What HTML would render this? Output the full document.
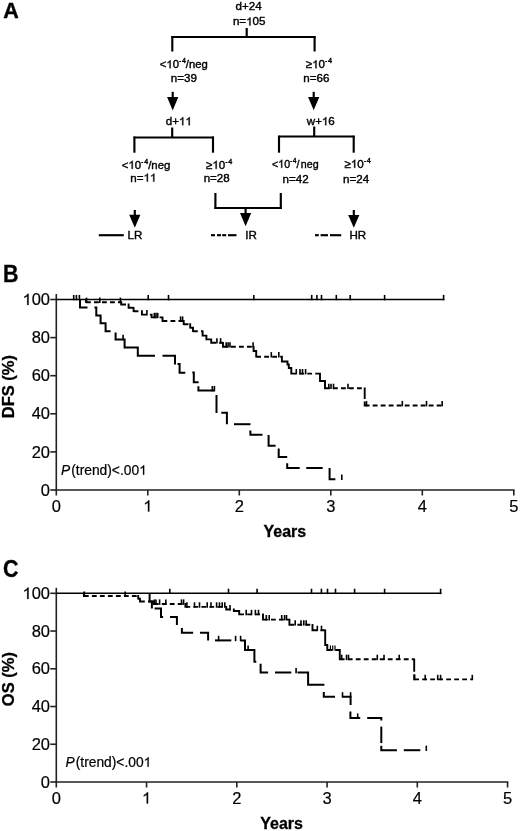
<!DOCTYPE html>
<html><head><meta charset="utf-8"><style>
html,body{margin:0;padding:0;background:#fff;}
svg{display:block;font-family:"Liberation Sans", sans-serif;will-change:transform;}
</style></head><body>
<svg width="520" height="831" viewBox="0 0 520 831" fill="#000">
<text x="3.2" y="18.3" font-size="21.5" text-anchor="start" font-weight="bold" font-style="normal" stroke="#000" stroke-width="0.4" >A</text>
<text x="248.6" y="10.4" font-size="11.6" text-anchor="middle" font-weight="normal" font-style="normal" stroke="#000" stroke-width="0.4" >d+24</text>
<text x="249.2" y="25.4" font-size="11.6" text-anchor="middle" font-weight="normal" font-style="normal" stroke="#000" stroke-width="0.4" >n= 05</text>
<line x1="246.7" y1="28" x2="246.7" y2="37.5" stroke="#000" stroke-width="2.15"/>
<line x1="171.5" y1="37" x2="315.5" y2="37" stroke="#000" stroke-width="2.15"/>
<line x1="172.3" y1="36" x2="172.3" y2="51.5" stroke="#000" stroke-width="2.15"/>
<line x1="314.6" y1="36" x2="314.6" y2="51.5" stroke="#000" stroke-width="2.15"/>
<text transform="translate(159.8,68.3) scale(0.975,1)" font-size="11.6" text-anchor="start" stroke="#000" stroke-width="0.4">&lt; 0<tspan font-size="5.8" dy="-5.2" dx="0.2">-</tspan><tspan font-size="7.3" dx="0.9">4</tspan><tspan dy="5.2">/neg</tspan></text>
<text x="183.8" y="82.3" font-size="11.6" text-anchor="middle" font-weight="normal" font-style="normal" stroke="#000" stroke-width="0.4" >n=39</text>
<text transform="translate(305.8,68.3) scale(1.0,1)" font-size="11.6" text-anchor="start" stroke="#000" stroke-width="0.4">≥ 0<tspan font-size="5.8" dy="-5.2" dx="0.2">-</tspan><tspan font-size="7.3" dx="0.9">4</tspan><tspan dy="5.2"></tspan></text>
<text x="316.3" y="82.3" font-size="11.6" text-anchor="middle" font-weight="normal" font-style="normal" stroke="#000" stroke-width="0.4" >n=66</text>
<line x1="172.7" y1="91.8" x2="172.7" y2="97.5" stroke="#000" stroke-width="2.15"/>
<path d="M167.1,97 L178.29999999999998,97 L172.7,110.4 Z" fill="#000"/>
<line x1="313.7" y1="91.8" x2="313.7" y2="97.5" stroke="#000" stroke-width="2.15"/>
<path d="M308.09999999999997,97 L319.3,97 L313.7,110.2 Z" fill="#000"/>
<text x="178.8" y="125.2" font-size="11.6" text-anchor="middle" font-weight="normal" font-style="normal" stroke="#000" stroke-width="0.4" >d+  </text>
<text x="320.8" y="125.2" font-size="11.6" text-anchor="middle" font-weight="normal" font-style="normal" stroke="#000" stroke-width="0.4" >w+ 6</text>
<line x1="172.2" y1="127.5" x2="172.2" y2="137.5" stroke="#000" stroke-width="2.15"/>
<line x1="133.6" y1="137.5" x2="213.8" y2="137.5" stroke="#000" stroke-width="2.15"/>
<line x1="134.4" y1="136.5" x2="134.4" y2="152.7" stroke="#000" stroke-width="2.15"/>
<line x1="213" y1="136.5" x2="213" y2="152.7" stroke="#000" stroke-width="2.15"/>
<line x1="314.2" y1="126.5" x2="314.2" y2="136.5" stroke="#000" stroke-width="2.15"/>
<line x1="278.2" y1="136.5" x2="354.5" y2="136.5" stroke="#000" stroke-width="2.15"/>
<line x1="279" y1="135.7" x2="279" y2="152.7" stroke="#000" stroke-width="2.15"/>
<line x1="353.7" y1="135.7" x2="353.7" y2="152.7" stroke="#000" stroke-width="2.15"/>
<text transform="translate(121.8,168.8) scale(0.985,1)" font-size="11.6" text-anchor="start" stroke="#000" stroke-width="0.4">&lt; 0<tspan font-size="5.8" dy="-5.2" dx="0.2">-</tspan><tspan font-size="7.3" dx="0.9">4</tspan><tspan dy="5.2">/neg</tspan></text>
<text x="143.4" y="181.6" font-size="11.6" text-anchor="middle" font-weight="normal" font-style="normal" stroke="#000" stroke-width="0.4" >n=  </text>
<text transform="translate(206.0,168.8) scale(1.0,1)" font-size="11.6" text-anchor="start" stroke="#000" stroke-width="0.4">≥ 0<tspan font-size="5.8" dy="-5.2" dx="0.2">-</tspan><tspan font-size="7.3" dx="0.9">4</tspan><tspan dy="5.2"></tspan></text>
<text x="216.7" y="182.4" font-size="11.6" text-anchor="middle" font-weight="normal" font-style="normal" stroke="#000" stroke-width="0.4" >n=28</text>
<text transform="translate(272.0,167.8) scale(0.92,1)" font-size="11.6" text-anchor="start" stroke="#000" stroke-width="0.4">&lt; 0<tspan font-size="5.8" dy="-5.2" dx="0.2">-</tspan><tspan font-size="7.3" dx="0.9">4</tspan><tspan dy="5.2">/<tspan dx="1.4">neg</tspan></tspan></text>
<text x="295.6" y="182.6" font-size="11.6" text-anchor="middle" font-weight="normal" font-style="normal" stroke="#000" stroke-width="0.4" >n=42</text>
<text transform="translate(344.5,167.8) scale(1.0,1)" font-size="11.6" text-anchor="start" stroke="#000" stroke-width="0.4">≥ 0<tspan font-size="5.8" dy="-5.2" dx="0.2">-</tspan><tspan font-size="7.3" dx="0.9">4</tspan><tspan dy="5.2"></tspan></text>
<text x="356.1" y="182.6" font-size="11.6" text-anchor="middle" font-weight="normal" font-style="normal" stroke="#000" stroke-width="0.4" >n=24</text>
<line x1="215.4" y1="193" x2="215.4" y2="208.9" stroke="#000" stroke-width="2.15"/>
<line x1="280.8" y1="193" x2="280.8" y2="208.9" stroke="#000" stroke-width="2.15"/>
<line x1="214.4" y1="208.0" x2="281.8" y2="208.0" stroke="#000" stroke-width="2.15"/>
<line x1="245.6" y1="208.0" x2="245.6" y2="213.5" stroke="#000" stroke-width="2.15"/>
<path d="M240.0,213 L251.2,213 L245.6,226.2 Z" fill="#000"/>
<line x1="134.8" y1="210" x2="134.8" y2="215.3" stroke="#000" stroke-width="2.15"/>
<path d="M129.20000000000002,214.8 L140.4,214.8 L134.8,227.8 Z" fill="#000"/>
<line x1="353.8" y1="210" x2="353.8" y2="215.5" stroke="#000" stroke-width="2.15"/>
<path d="M348.2,215 L359.40000000000003,215 L353.8,227.8 Z" fill="#000"/>
<line x1="98.8" y1="235.2" x2="123.8" y2="235.2" stroke="#000" stroke-width="2.15"/>
<text x="134.9" y="238.8" font-size="11.6" text-anchor="middle" font-weight="normal" font-style="normal" stroke="#000" stroke-width="0.4" >LR</text>
<line x1="211" y1="235.2" x2="215" y2="235.2" stroke="#000" stroke-width="2.15"/>
<line x1="217" y1="235.2" x2="221" y2="235.2" stroke="#000" stroke-width="2.15"/>
<line x1="222.2" y1="235.2" x2="226.2" y2="235.2" stroke="#000" stroke-width="2.15"/>
<line x1="228" y1="235.2" x2="236.5" y2="235.2" stroke="#000" stroke-width="2.15"/>
<text x="251.0" y="238.7" font-size="11.6" text-anchor="middle" font-weight="normal" font-style="normal" stroke="#000" stroke-width="0.4" >IR</text>
<line x1="315" y1="235.2" x2="318.8" y2="235.2" stroke="#000" stroke-width="2.15"/>
<line x1="320.6" y1="235.2" x2="328" y2="235.2" stroke="#000" stroke-width="2.15"/>
<line x1="330" y1="235.2" x2="341.2" y2="235.2" stroke="#000" stroke-width="2.15"/>
<text x="357.8" y="238.7" font-size="11.6" text-anchor="middle" font-weight="normal" font-style="normal" stroke="#000" stroke-width="0.4" >HR</text>
<text transform="translate(3.0,282.0) scale(1.0,1.08)" font-size="21.5" text-anchor="start" font-weight="bold" font-style="normal" stroke="#000" stroke-width="0.3" >B</text>
<line x1="56.3" y1="294.0" x2="56.3" y2="490.75" stroke="#222" stroke-width="1.6"/>
<line x1="55.55" y1="490.0" x2="514.5999999999999" y2="490.0" stroke="#222" stroke-width="1.6"/>
<line x1="50.3" y1="490.0" x2="56.3" y2="490.0" stroke="#222" stroke-width="1.6"/>
<text x="50.0" y="495.6" font-size="16.5" text-anchor="end" font-weight="normal" font-style="normal" stroke="#000" stroke-width="0.2" >0</text>
<line x1="50.3" y1="451.9" x2="56.3" y2="451.9" stroke="#222" stroke-width="1.6"/>
<text x="50.0" y="457.5" font-size="16.5" text-anchor="end" font-weight="normal" font-style="normal" stroke="#000" stroke-width="0.2" >20</text>
<line x1="50.3" y1="413.8" x2="56.3" y2="413.8" stroke="#222" stroke-width="1.6"/>
<text x="50.0" y="419.40000000000003" font-size="16.5" text-anchor="end" font-weight="normal" font-style="normal" stroke="#000" stroke-width="0.2" >40</text>
<line x1="50.3" y1="375.7" x2="56.3" y2="375.7" stroke="#222" stroke-width="1.6"/>
<text x="50.0" y="381.3" font-size="16.5" text-anchor="end" font-weight="normal" font-style="normal" stroke="#000" stroke-width="0.2" >60</text>
<line x1="50.3" y1="337.6" x2="56.3" y2="337.6" stroke="#222" stroke-width="1.6"/>
<text x="50.0" y="343.20000000000005" font-size="16.5" text-anchor="end" font-weight="normal" font-style="normal" stroke="#000" stroke-width="0.2" >80</text>
<line x1="50.3" y1="299.5" x2="56.3" y2="299.5" stroke="#222" stroke-width="1.6"/>
<text x="50.0" y="305.1" font-size="16.5" text-anchor="end" font-weight="normal" font-style="normal" stroke="#000" stroke-width="0.2" > 00</text>
<line x1="56.3" y1="490.0" x2="56.3" y2="495.5" stroke="#222" stroke-width="1.6"/>
<text x="56.3" y="511.6" font-size="16.5" text-anchor="middle" font-weight="normal" font-style="normal" stroke="#000" stroke-width="0.2" >0</text>
<line x1="147.8" y1="490.0" x2="147.8" y2="495.5" stroke="#222" stroke-width="1.6"/>
<text x="147.8" y="511.6" font-size="16.5" text-anchor="middle" font-weight="normal" font-style="normal" stroke="#000" stroke-width="0.2" > </text>
<line x1="239.3" y1="490.0" x2="239.3" y2="495.5" stroke="#222" stroke-width="1.6"/>
<text x="239.3" y="511.6" font-size="16.5" text-anchor="middle" font-weight="normal" font-style="normal" stroke="#000" stroke-width="0.2" >2</text>
<line x1="330.8" y1="490.0" x2="330.8" y2="495.5" stroke="#222" stroke-width="1.6"/>
<text x="330.8" y="511.6" font-size="16.5" text-anchor="middle" font-weight="normal" font-style="normal" stroke="#000" stroke-width="0.2" >3</text>
<line x1="422.3" y1="490.0" x2="422.3" y2="495.5" stroke="#222" stroke-width="1.6"/>
<text x="422.3" y="511.6" font-size="16.5" text-anchor="middle" font-weight="normal" font-style="normal" stroke="#000" stroke-width="0.2" >4</text>
<line x1="513.8" y1="490.0" x2="513.8" y2="495.5" stroke="#222" stroke-width="1.6"/>
<text x="513.8" y="511.6" font-size="16.5" text-anchor="middle" font-weight="normal" font-style="normal" stroke="#000" stroke-width="0.2" >5</text>
<text transform="translate(284.9,537.2) scale(1.0,1.06)" font-size="16.0" text-anchor="middle" font-weight="bold" font-style="normal" stroke="#000" stroke-width="0.3" >Years</text>
<text transform="translate(14.4,386.6) rotate(-90)" font-size="16.5" font-weight="bold" text-anchor="middle" stroke="#000" stroke-width="0.3">DFS (%)</text>
<text x="61.0" y="474.8" font-size="13.8" stroke="#000" stroke-width="0.22"><tspan font-style="italic">P</tspan><tspan dx="1">(trend)&lt;.00 </tspan></text>
<line x1="56.3" y1="299.5" x2="444.3" y2="299.5" stroke="#000" stroke-width="1.6"/>
<line x1="73.7" y1="294.9" x2="73.7" y2="300.3" stroke="#000" stroke-width="1.6"/>
<line x1="76.4" y1="294.9" x2="76.4" y2="300.3" stroke="#000" stroke-width="1.6"/>
<line x1="79.4" y1="294.9" x2="79.4" y2="300.3" stroke="#000" stroke-width="1.6"/>
<line x1="148.2" y1="294.9" x2="148.2" y2="300.3" stroke="#000" stroke-width="1.6"/>
<line x1="168.5" y1="294.9" x2="168.5" y2="300.3" stroke="#000" stroke-width="1.6"/>
<line x1="253.8" y1="294.9" x2="253.8" y2="300.3" stroke="#000" stroke-width="1.6"/>
<line x1="311.7" y1="294.9" x2="311.7" y2="300.3" stroke="#000" stroke-width="1.6"/>
<line x1="316.9" y1="294.9" x2="316.9" y2="300.3" stroke="#000" stroke-width="1.6"/>
<line x1="321.5" y1="294.9" x2="321.5" y2="300.3" stroke="#000" stroke-width="1.6"/>
<line x1="336.3" y1="294.9" x2="336.3" y2="300.3" stroke="#000" stroke-width="1.6"/>
<line x1="350.2" y1="294.9" x2="350.2" y2="300.3" stroke="#000" stroke-width="1.6"/>
<line x1="384.6" y1="294.9" x2="384.6" y2="300.3" stroke="#000" stroke-width="1.6"/>
<line x1="443.6" y1="294.9" x2="443.6" y2="300.3" stroke="#000" stroke-width="1.6"/>
<path d="M86,298.6V303.09999999999997M86.00,302.2H90.80M94.00,302.2H98.80M102.00,302.2H106.80M110.00,302.2H114.80M118.00,302.2H121.20M121.2,301.3V305.4M121.20,304.5H126.00M128.6,303.6V308.7M128.60,307.8H133.40M133.6,306.90000000000003V312.09999999999997M133.60,311.2H138.40M141.60,311.2H141.90M141.9,310.3V315.5M141.90,314.6H146.70M149.90,314.6H151.60M151.6,313.70000000000005V318.29999999999995M151.60,317.4H156.40M159.60,317.4H162.50M162.5,316.5V321.9M162.50,321H167.30M170.50,321H175.30M178.50,321H183.30M183.7,320.1V325.09999999999997M183.70,324.2H188.50M190.2,323.3V328.59999999999997M190.20,327.7H193.00M193,326.8V332.09999999999997M193.00,331.2H197.80M201.00,331.2H202.60M202.6,330.3V336.5M202.60,335.6H206.40M206.4,334.70000000000005V340.29999999999995M206.40,339.4H211.20M211.2,338.5V343.7M211.20,342.8H216.00M219.20,342.8H223.00M223,341.90000000000003V347.7M223.00,346.8H227.80M231.00,346.8H235.80M239.00,346.8H243.80M247.00,346.8H251.80M253.6,345.90000000000003V351.9M253.60,351H256.20M256.2,350.1V357.59999999999997M256.20,356.7H261.00M264.20,356.7H269.00M272.20,356.7H277.00M280.20,356.7H281.90M281.9,355.8V362.4M281.90,361.5H286.70M287.5,360.6V365.4M287.50,364.5H288.80M288.8,363.6V368.9M288.80,368H291.30M291.3,367.1V374.5M291.30,373.6H296.10M299.30,373.6H304.10M307.30,373.6H312.10M315.30,373.6H320.00M320,372.70000000000005V381.9M320.00,381H324.80M325,380.1V389.2M325.00,388.3H329.80M333.00,388.3H337.80M341.00,388.3H345.80M349.00,388.3H353.80M357.00,388.3H361.80M364.7,387.40000000000003V398.96M364.7,401.46V406.4M364.70,405.5H369.50M372.70,405.5H377.50M380.70,405.5H385.50M388.70,405.5H393.50M396.70,405.5H401.50M404.70,405.5H409.50M412.70,405.5H417.50M420.70,405.5H425.50M428.70,405.5H433.50M436.70,405.5H441.50" fill="none" stroke="#000" stroke-width="1.9" stroke-linecap="butt"/>
<line x1="86.6" y1="297.59999999999997" x2="86.6" y2="303.0" stroke="#000" stroke-width="1.6"/>
<line x1="99.8" y1="297.59999999999997" x2="99.8" y2="303.0" stroke="#000" stroke-width="1.6"/>
<line x1="120.4" y1="297.59999999999997" x2="120.4" y2="303.0" stroke="#000" stroke-width="1.6"/>
<line x1="146.9" y1="310.0" x2="146.9" y2="315.40000000000003" stroke="#000" stroke-width="1.6"/>
<line x1="154.3" y1="312.79999999999995" x2="154.3" y2="318.2" stroke="#000" stroke-width="1.6"/>
<line x1="156" y1="312.79999999999995" x2="156" y2="318.2" stroke="#000" stroke-width="1.6"/>
<line x1="157.7" y1="312.79999999999995" x2="157.7" y2="318.2" stroke="#000" stroke-width="1.6"/>
<line x1="180.6" y1="316.4" x2="180.6" y2="321.8" stroke="#000" stroke-width="1.6"/>
<line x1="182.6" y1="316.4" x2="182.6" y2="321.8" stroke="#000" stroke-width="1.6"/>
<line x1="216.9" y1="338.2" x2="216.9" y2="343.6" stroke="#000" stroke-width="1.6"/>
<line x1="220.6" y1="338.2" x2="220.6" y2="343.6" stroke="#000" stroke-width="1.6"/>
<line x1="226.2" y1="342.2" x2="226.2" y2="347.6" stroke="#000" stroke-width="1.6"/>
<line x1="228.1" y1="342.2" x2="228.1" y2="347.6" stroke="#000" stroke-width="1.6"/>
<line x1="230" y1="342.2" x2="230" y2="347.6" stroke="#000" stroke-width="1.6"/>
<line x1="253.1" y1="342.2" x2="253.1" y2="347.6" stroke="#000" stroke-width="1.6"/>
<line x1="271.3" y1="352.09999999999997" x2="271.3" y2="357.5" stroke="#000" stroke-width="1.6"/>
<line x1="278.8" y1="352.09999999999997" x2="278.8" y2="357.5" stroke="#000" stroke-width="1.6"/>
<line x1="296.3" y1="369.0" x2="296.3" y2="374.40000000000003" stroke="#000" stroke-width="1.6"/>
<line x1="300" y1="369.0" x2="300" y2="374.40000000000003" stroke="#000" stroke-width="1.6"/>
<line x1="302.5" y1="369.0" x2="302.5" y2="374.40000000000003" stroke="#000" stroke-width="1.6"/>
<line x1="305.6" y1="369.0" x2="305.6" y2="374.40000000000003" stroke="#000" stroke-width="1.6"/>
<line x1="328.8" y1="383.7" x2="328.8" y2="389.1" stroke="#000" stroke-width="1.6"/>
<line x1="331" y1="383.7" x2="331" y2="389.1" stroke="#000" stroke-width="1.6"/>
<line x1="333.5" y1="383.7" x2="333.5" y2="389.1" stroke="#000" stroke-width="1.6"/>
<line x1="348" y1="383.7" x2="348" y2="389.1" stroke="#000" stroke-width="1.6"/>
<line x1="366.5" y1="400.9" x2="366.5" y2="406.3" stroke="#000" stroke-width="1.6"/>
<line x1="402.3" y1="400.9" x2="402.3" y2="406.3" stroke="#000" stroke-width="1.6"/>
<line x1="426.5" y1="400.9" x2="426.5" y2="406.3" stroke="#000" stroke-width="1.6"/>
<line x1="442.2" y1="400.9" x2="442.2" y2="406.3" stroke="#000" stroke-width="1.6"/>
<path d="M80.0,299.5 L80.0,307.5 L87.5,307.5" fill="none" stroke="#000" stroke-width="2.0" stroke-linejoin="miter"/>
<path d="M94.4,307.5 L96.3,307.5 L96.3,315.5 L100.6,315.5 L100.6,323.2 L105.6,323.2 L105.6,331.2 L110.6,331.2" fill="none" stroke="#000" stroke-width="2.0" stroke-linejoin="miter"/>
<path d="M115.6,332.5 L115.6,339.4 L124.6,339.4 L124.6,347.6 L137.8,347.6 L137.8,355.7 L155,355.7" fill="none" stroke="#000" stroke-width="2.0" stroke-linejoin="miter"/>
<path d="M162.5,355.7 L175,355.7 L175,364.6" fill="none" stroke="#000" stroke-width="2.0" stroke-linejoin="miter"/>
<path d="M177.5,364.0 L179.6,364.0 L179.6,372.7 L185.3,372.7" fill="none" stroke="#000" stroke-width="2.0" stroke-linejoin="miter"/>
<path d="M192.3,372.6 L193.8,372.6 L193.8,382.2 L198.6,382.2" fill="none" stroke="#000" stroke-width="2.0" stroke-linejoin="miter"/>
<path d="M198.4,386.2 L198.4,390.6 L214.4,390.6" fill="none" stroke="#000" stroke-width="2.0" stroke-linejoin="miter"/>
<path d="M216.5,395 L216.5,413" fill="none" stroke="#000" stroke-width="2.0" stroke-linejoin="miter"/>
<path d="M221.3,412.8 L226.9,412.8 L226.9,424.3" fill="none" stroke="#000" stroke-width="2.0" stroke-linejoin="miter"/>
<path d="M234,424.2 L250.5,424.2" fill="none" stroke="#000" stroke-width="2.0" stroke-linejoin="miter"/>
<path d="M250.4,430.6 L250.4,434.8 L262.5,434.8" fill="none" stroke="#000" stroke-width="2.0" stroke-linejoin="miter"/>
<path d="M268.6,435 L268.6,445.8 L275.6,445.8" fill="none" stroke="#000" stroke-width="2.0" stroke-linejoin="miter"/>
<path d="M278.7,448.6 L278.7,456.9 L287.2,456.9" fill="none" stroke="#000" stroke-width="2.0" stroke-linejoin="miter"/>
<path d="M287.2,463.3 L287.2,468.0 L299.7,468.0" fill="none" stroke="#000" stroke-width="2.0" stroke-linejoin="miter"/>
<path d="M306.3,468.0 L322.7,468.0" fill="none" stroke="#000" stroke-width="2.0" stroke-linejoin="miter"/>
<path d="M329.6,468.0 L329.6,479.2 L335.4,479.2" fill="none" stroke="#000" stroke-width="2.0" stroke-linejoin="miter"/>
<line x1="123.1" y1="334.79999999999995" x2="123.1" y2="340.2" stroke="#000" stroke-width="1.6"/>
<line x1="212.3" y1="386.0" x2="212.3" y2="391.40000000000003" stroke="#000" stroke-width="1.6"/>
<line x1="214.4" y1="386.0" x2="214.4" y2="391.40000000000003" stroke="#000" stroke-width="1.6"/>
<line x1="341.8" y1="474.59999999999997" x2="341.8" y2="480.0" stroke="#000" stroke-width="1.6"/>
<text transform="translate(3.0,577.3) scale(1.0,1.08)" font-size="21.5" text-anchor="start" font-weight="bold" font-style="normal" stroke="#000" stroke-width="0.3" >C</text>
<line x1="56.3" y1="587.8" x2="56.3" y2="782.75" stroke="#222" stroke-width="1.6"/>
<line x1="55.55" y1="782.0" x2="508.35" y2="782.0" stroke="#222" stroke-width="1.6"/>
<line x1="50.3" y1="782.0" x2="56.3" y2="782.0" stroke="#222" stroke-width="1.6"/>
<text x="50.0" y="787.6" font-size="16.5" text-anchor="end" font-weight="normal" font-style="normal" stroke="#000" stroke-width="0.2" >0</text>
<line x1="50.3" y1="744.26" x2="56.3" y2="744.26" stroke="#222" stroke-width="1.6"/>
<text x="50.0" y="749.86" font-size="16.5" text-anchor="end" font-weight="normal" font-style="normal" stroke="#000" stroke-width="0.2" >20</text>
<line x1="50.3" y1="706.52" x2="56.3" y2="706.52" stroke="#222" stroke-width="1.6"/>
<text x="50.0" y="712.12" font-size="16.5" text-anchor="end" font-weight="normal" font-style="normal" stroke="#000" stroke-width="0.2" >40</text>
<line x1="50.3" y1="668.78" x2="56.3" y2="668.78" stroke="#222" stroke-width="1.6"/>
<text x="50.0" y="674.38" font-size="16.5" text-anchor="end" font-weight="normal" font-style="normal" stroke="#000" stroke-width="0.2" >60</text>
<line x1="50.3" y1="631.04" x2="56.3" y2="631.04" stroke="#222" stroke-width="1.6"/>
<text x="50.0" y="636.64" font-size="16.5" text-anchor="end" font-weight="normal" font-style="normal" stroke="#000" stroke-width="0.2" >80</text>
<line x1="50.3" y1="593.3" x2="56.3" y2="593.3" stroke="#222" stroke-width="1.6"/>
<text x="50.0" y="598.9" font-size="16.5" text-anchor="end" font-weight="normal" font-style="normal" stroke="#000" stroke-width="0.2" > 00</text>
<line x1="56.3" y1="782.0" x2="56.3" y2="787.5" stroke="#222" stroke-width="1.6"/>
<text x="56.3" y="803.6" font-size="16.5" text-anchor="middle" font-weight="normal" font-style="normal" stroke="#000" stroke-width="0.2" >0</text>
<line x1="146.55" y1="782.0" x2="146.55" y2="787.5" stroke="#222" stroke-width="1.6"/>
<text x="146.55" y="803.6" font-size="16.5" text-anchor="middle" font-weight="normal" font-style="normal" stroke="#000" stroke-width="0.2" > </text>
<line x1="236.8" y1="782.0" x2="236.8" y2="787.5" stroke="#222" stroke-width="1.6"/>
<text x="236.8" y="803.6" font-size="16.5" text-anchor="middle" font-weight="normal" font-style="normal" stroke="#000" stroke-width="0.2" >2</text>
<line x1="327.05" y1="782.0" x2="327.05" y2="787.5" stroke="#222" stroke-width="1.6"/>
<text x="327.05" y="803.6" font-size="16.5" text-anchor="middle" font-weight="normal" font-style="normal" stroke="#000" stroke-width="0.2" >3</text>
<line x1="417.3" y1="782.0" x2="417.3" y2="787.5" stroke="#222" stroke-width="1.6"/>
<text x="417.3" y="803.6" font-size="16.5" text-anchor="middle" font-weight="normal" font-style="normal" stroke="#000" stroke-width="0.2" >4</text>
<line x1="507.55" y1="782.0" x2="507.55" y2="787.5" stroke="#222" stroke-width="1.6"/>
<text x="507.55" y="803.6" font-size="16.5" text-anchor="middle" font-weight="normal" font-style="normal" stroke="#000" stroke-width="0.2" >5</text>
<text x="281.6" y="828.6" font-size="16.0" text-anchor="middle" font-weight="bold" font-style="normal" stroke="#000" stroke-width="0.3" >Years</text>
<text transform="translate(14.4,679.1) rotate(-90)" font-size="16.5" font-weight="bold" text-anchor="middle" stroke="#000" stroke-width="0.3">OS (%)</text>
<text x="65.5" y="766.7" font-size="13.8" stroke="#000" stroke-width="0.22"><tspan font-style="italic">P</tspan><tspan dx="1">(trend)&lt;.00 </tspan></text>
<line x1="56.3" y1="593.3" x2="441.4" y2="593.3" stroke="#000" stroke-width="1.6"/>
<line x1="169.8" y1="588.6999999999999" x2="169.8" y2="594.0999999999999" stroke="#000" stroke-width="1.6"/>
<line x1="228.5" y1="588.6999999999999" x2="228.5" y2="594.0999999999999" stroke="#000" stroke-width="1.6"/>
<line x1="257.1" y1="588.6999999999999" x2="257.1" y2="594.0999999999999" stroke="#000" stroke-width="1.6"/>
<line x1="311.5" y1="588.6999999999999" x2="311.5" y2="594.0999999999999" stroke="#000" stroke-width="1.6"/>
<line x1="321.4" y1="588.6999999999999" x2="321.4" y2="594.0999999999999" stroke="#000" stroke-width="1.6"/>
<line x1="327.5" y1="588.6999999999999" x2="327.5" y2="594.0999999999999" stroke="#000" stroke-width="1.6"/>
<line x1="335.5" y1="588.6999999999999" x2="335.5" y2="594.0999999999999" stroke="#000" stroke-width="1.6"/>
<line x1="354.6" y1="588.6999999999999" x2="354.6" y2="594.0999999999999" stroke="#000" stroke-width="1.6"/>
<line x1="384.6" y1="588.6999999999999" x2="384.6" y2="594.0999999999999" stroke="#000" stroke-width="1.6"/>
<line x1="440.6" y1="588.6999999999999" x2="440.6" y2="594.0999999999999" stroke="#000" stroke-width="1.6"/>
<path d="M83.9,592.4V596.9M83.90,596H88.70M91.90,596H96.70M99.90,596H104.70M107.90,596H112.70M115.90,596H120.70M123.90,596H128.70M131.90,596H136.70M138.2,595.1V599.6M138.20,598.7H140.00M140,597.8000000000001V602.4M140.00,601.5H144.80M148.00,601.5H152.80M153.8,600.6V604.9M153.80,604.0H158.60M161.80,604.0H166.60M169.80,604.0H174.60M177.80,604.0H182.60M185.4,603.1V607.8M185.40,606.9H190.20M193.40,606.9H198.20M201.40,606.9H206.20M209.40,606.9H214.20M217.40,606.9H222.20M225.40,606.9H226.20M226.2,606.0V610.4M226.20,609.5H231.00M233.8,608.6V611.9M233.80,611H238.60M239.2,610.1V615.3M239.20,614.4H244.00M247.20,614.4H252.00M255.20,614.4H260.00M263,613.5V620.5M263.00,619.6H267.80M271.00,619.6H275.80M279.00,619.6H283.80M287.00,619.6H289.40M289.4,618.7V625.6999999999999M289.40,624.8H294.20M297.40,624.8H302.20M305.40,624.8H310.20M312.5,623.9V631.1999999999999M312.50,630.3H317.30M320.50,630.3H325.20M325.2,629.4V645.9M325.20,645H327.30M327.3,644.1V650.9M327.30,650H332.10M335.30,650H339.80M339.8,649.1V660.1999999999999M339.80,659.3H344.60M347.80,659.3H352.60M355.80,659.3H360.60M363.80,659.3H368.60M371.80,659.3H376.60M379.80,659.3H384.60M387.80,659.3H392.60M395.80,659.3H400.60M403.80,659.3H408.60M411.80,659.3H414.20M414.2,658.4V671.76M414.2,674.26V680.3M414.20,679.4H419.00M422.20,679.4H427.00M430.20,679.4H435.00M438.20,679.4H443.00M446.20,679.4H451.00M454.20,679.4H459.00M462.20,679.4H467.00M470.20,679.4H472.30" fill="none" stroke="#000" stroke-width="1.9" stroke-linecap="butt"/>
<line x1="84.3" y1="591.4" x2="84.3" y2="596.8" stroke="#000" stroke-width="1.6"/>
<line x1="125.2" y1="591.4" x2="125.2" y2="596.8" stroke="#000" stroke-width="1.6"/>
<line x1="154.4" y1="599.4" x2="154.4" y2="604.8" stroke="#000" stroke-width="1.6"/>
<line x1="156" y1="599.4" x2="156" y2="604.8" stroke="#000" stroke-width="1.6"/>
<line x1="159.6" y1="599.4" x2="159.6" y2="604.8" stroke="#000" stroke-width="1.6"/>
<line x1="165.8" y1="599.4" x2="165.8" y2="604.8" stroke="#000" stroke-width="1.6"/>
<line x1="181.5" y1="599.4" x2="181.5" y2="604.8" stroke="#000" stroke-width="1.6"/>
<line x1="183.6" y1="599.4" x2="183.6" y2="604.8" stroke="#000" stroke-width="1.6"/>
<line x1="186.9" y1="602.3" x2="186.9" y2="607.6999999999999" stroke="#000" stroke-width="1.6"/>
<line x1="194.5" y1="602.3" x2="194.5" y2="607.6999999999999" stroke="#000" stroke-width="1.6"/>
<line x1="199.5" y1="602.3" x2="199.5" y2="607.6999999999999" stroke="#000" stroke-width="1.6"/>
<line x1="207.2" y1="602.3" x2="207.2" y2="607.6999999999999" stroke="#000" stroke-width="1.6"/>
<line x1="211" y1="602.3" x2="211" y2="607.6999999999999" stroke="#000" stroke-width="1.6"/>
<line x1="216.6" y1="602.3" x2="216.6" y2="607.6999999999999" stroke="#000" stroke-width="1.6"/>
<line x1="219.5" y1="602.3" x2="219.5" y2="607.6999999999999" stroke="#000" stroke-width="1.6"/>
<line x1="222.2" y1="602.3" x2="222.2" y2="607.6999999999999" stroke="#000" stroke-width="1.6"/>
<line x1="224.8" y1="602.3" x2="224.8" y2="607.6999999999999" stroke="#000" stroke-width="1.6"/>
<line x1="230" y1="604.9" x2="230" y2="610.3" stroke="#000" stroke-width="1.6"/>
<line x1="246.2" y1="609.8" x2="246.2" y2="615.1999999999999" stroke="#000" stroke-width="1.6"/>
<line x1="251.5" y1="609.8" x2="251.5" y2="615.1999999999999" stroke="#000" stroke-width="1.6"/>
<line x1="255.4" y1="609.8" x2="255.4" y2="615.1999999999999" stroke="#000" stroke-width="1.6"/>
<line x1="258.5" y1="609.8" x2="258.5" y2="615.1999999999999" stroke="#000" stroke-width="1.6"/>
<line x1="266.3" y1="615.0" x2="266.3" y2="620.4" stroke="#000" stroke-width="1.6"/>
<line x1="269.2" y1="615.0" x2="269.2" y2="620.4" stroke="#000" stroke-width="1.6"/>
<line x1="281.7" y1="615.0" x2="281.7" y2="620.4" stroke="#000" stroke-width="1.6"/>
<line x1="284.6" y1="615.0" x2="284.6" y2="620.4" stroke="#000" stroke-width="1.6"/>
<line x1="286.5" y1="615.0" x2="286.5" y2="620.4" stroke="#000" stroke-width="1.6"/>
<line x1="295.2" y1="620.1999999999999" x2="295.2" y2="625.5999999999999" stroke="#000" stroke-width="1.6"/>
<line x1="301" y1="620.1999999999999" x2="301" y2="625.5999999999999" stroke="#000" stroke-width="1.6"/>
<line x1="303.8" y1="620.1999999999999" x2="303.8" y2="625.5999999999999" stroke="#000" stroke-width="1.6"/>
<line x1="306.2" y1="620.1999999999999" x2="306.2" y2="625.5999999999999" stroke="#000" stroke-width="1.6"/>
<line x1="317.3" y1="625.6999999999999" x2="317.3" y2="631.0999999999999" stroke="#000" stroke-width="1.6"/>
<line x1="321.5" y1="625.6999999999999" x2="321.5" y2="631.0999999999999" stroke="#000" stroke-width="1.6"/>
<line x1="341.7" y1="654.6999999999999" x2="341.7" y2="660.0999999999999" stroke="#000" stroke-width="1.6"/>
<line x1="346.5" y1="654.6999999999999" x2="346.5" y2="660.0999999999999" stroke="#000" stroke-width="1.6"/>
<line x1="348.5" y1="654.6999999999999" x2="348.5" y2="660.0999999999999" stroke="#000" stroke-width="1.6"/>
<line x1="377.3" y1="654.6999999999999" x2="377.3" y2="660.0999999999999" stroke="#000" stroke-width="1.6"/>
<line x1="384" y1="654.6999999999999" x2="384" y2="660.0999999999999" stroke="#000" stroke-width="1.6"/>
<line x1="399.2" y1="654.6999999999999" x2="399.2" y2="660.0999999999999" stroke="#000" stroke-width="1.6"/>
<line x1="414.6" y1="674.8" x2="414.6" y2="680.1999999999999" stroke="#000" stroke-width="1.6"/>
<line x1="425.2" y1="674.8" x2="425.2" y2="680.1999999999999" stroke="#000" stroke-width="1.6"/>
<line x1="437.7" y1="674.8" x2="437.7" y2="680.1999999999999" stroke="#000" stroke-width="1.6"/>
<line x1="440.6" y1="674.8" x2="440.6" y2="680.1999999999999" stroke="#000" stroke-width="1.6"/>
<line x1="472.3" y1="674.8" x2="472.3" y2="680.1999999999999" stroke="#000" stroke-width="1.6"/>
<line x1="330.4" y1="645.4" x2="330.4" y2="650.8" stroke="#000" stroke-width="1.2"/>
<line x1="332.7" y1="645.4" x2="332.7" y2="650.8" stroke="#000" stroke-width="1.2"/>
<line x1="335" y1="645.4" x2="335" y2="650.8" stroke="#000" stroke-width="1.2"/>
<path d="M149.6,593.4 L149.6,601.5 L151.9,601.5 L151.9,608.5" fill="none" stroke="#000" stroke-width="2.0" stroke-linejoin="miter"/>
<path d="M154.6,608.5 L161,608.5 L161,616.9 L163.1,616.9" fill="none" stroke="#000" stroke-width="2.0" stroke-linejoin="miter"/>
<path d="M170,616.9 L176.9,616.9 L176.9,625" fill="none" stroke="#000" stroke-width="2.0" stroke-linejoin="miter"/>
<path d="M181.9,628.1 L181.9,632.7 L193.1,632.7" fill="none" stroke="#000" stroke-width="2.0" stroke-linejoin="miter"/>
<path d="M200,632.7 L208.1,632.7 L208.1,640.5" fill="none" stroke="#000" stroke-width="2.0" stroke-linejoin="miter"/>
<path d="M215,640.4 L231.3,640.4" fill="none" stroke="#000" stroke-width="2.0" stroke-linejoin="miter"/>
<path d="M240.6,640.4 L245,640.4 L245,650 L254.4,650 L254.4,661.7 L256.3,661.7" fill="none" stroke="#000" stroke-width="2.0" stroke-linejoin="miter"/>
<path d="M260.6,663.8 L260.6,672.5 L268.1,672.5" fill="none" stroke="#000" stroke-width="2.0" stroke-linejoin="miter"/>
<path d="M275,672.5 L291.3,672.5" fill="none" stroke="#000" stroke-width="2.0" stroke-linejoin="miter"/>
<path d="M297.5,672.5 L308.1,672.5 L308.1,684.7 L324.4,684.7" fill="none" stroke="#000" stroke-width="2.0" stroke-linejoin="miter"/>
<path d="M323.8,692 L323.8,696.8 L335,696.8" fill="none" stroke="#000" stroke-width="2.0" stroke-linejoin="miter"/>
<path d="M342.5,696.8 L350.6,696.8 L350.6,705.1" fill="none" stroke="#000" stroke-width="2.0" stroke-linejoin="miter"/>
<path d="M350.4,711.6 L350.4,718 L360.2,718" fill="none" stroke="#000" stroke-width="2.0" stroke-linejoin="miter"/>
<path d="M367.2,718 L381.3,718 L381.3,720.5" fill="none" stroke="#000" stroke-width="2.0" stroke-linejoin="miter"/>
<path d="M381.3,726.6 L381.3,743.1" fill="none" stroke="#000" stroke-width="2.0" stroke-linejoin="miter"/>
<path d="M381.3,745.7 L381.3,750.2 L396.9,750.2" fill="none" stroke="#000" stroke-width="2.0" stroke-linejoin="miter"/>
<path d="M403.8,750.2 L420.3,750.2" fill="none" stroke="#000" stroke-width="2.0" stroke-linejoin="miter"/>
<line x1="218.6" y1="635.8" x2="218.6" y2="641.1999999999999" stroke="#000" stroke-width="1.6"/>
<line x1="235.6" y1="635.8" x2="235.6" y2="641.1999999999999" stroke="#000" stroke-width="1.6"/>
<line x1="240.6" y1="635.8" x2="240.6" y2="641.1999999999999" stroke="#000" stroke-width="1.6"/>
<line x1="248.1" y1="645.4" x2="248.1" y2="650.8" stroke="#000" stroke-width="1.6"/>
<line x1="296.1" y1="667.9" x2="296.1" y2="673.3" stroke="#000" stroke-width="1.6"/>
<line x1="342.5" y1="692.1999999999999" x2="342.5" y2="697.5999999999999" stroke="#000" stroke-width="1.6"/>
<line x1="350.6" y1="692.1999999999999" x2="350.6" y2="697.5999999999999" stroke="#000" stroke-width="1.6"/>
<line x1="357.7" y1="713.4" x2="357.7" y2="718.8" stroke="#000" stroke-width="1.6"/>
<line x1="426.3" y1="745.6" x2="426.3" y2="751.0" stroke="#000" stroke-width="1.6"/>
<path transform="matrix(0.00566,0.00000,0.00000,-0.00566,246.12,25.40)" d="M763,0H583V1100C510,1035 370,950 223,893V1060C400,1135 560,1260 647,1409H763Z" stroke="#000" stroke-width="70.6"/>
<path transform="matrix(0.00552,0.00000,0.00000,-0.00566,166.39,68.30)" d="M763,0H583V1100C510,1035 370,950 223,893V1060C400,1135 560,1260 647,1409H763Z" stroke="#000" stroke-width="70.6"/>
<path transform="matrix(0.00566,0.00000,0.00000,-0.00566,312.16,68.30)" d="M763,0H583V1100C510,1035 370,950 223,893V1060C400,1135 560,1260 647,1409H763Z" stroke="#000" stroke-width="70.6"/>
<path transform="matrix(0.00566,0.00000,0.00000,-0.00566,178.94,125.20)" d="M763,0H583V1100C510,1035 370,950 223,893V1060C400,1135 560,1260 647,1409H763Z" stroke="#000" stroke-width="70.6"/>
<path transform="matrix(0.00566,0.00000,0.00000,-0.00566,185.39,125.20)" d="M763,0H583V1100C510,1035 370,950 223,893V1060C400,1135 560,1260 647,1409H763Z" stroke="#000" stroke-width="70.6"/>
<path transform="matrix(0.00566,0.00000,0.00000,-0.00566,321.92,125.20)" d="M763,0H583V1100C510,1035 370,950 223,893V1060C400,1135 560,1260 647,1409H763Z" stroke="#000" stroke-width="70.6"/>
<path transform="matrix(0.00558,0.00000,0.00000,-0.00566,128.45,168.80)" d="M763,0H583V1100C510,1035 370,950 223,893V1060C400,1135 560,1260 647,1409H763Z" stroke="#000" stroke-width="70.6"/>
<path transform="matrix(0.00566,0.00000,0.00000,-0.00566,143.54,181.60)" d="M763,0H583V1100C510,1035 370,950 223,893V1060C400,1135 560,1260 647,1409H763Z" stroke="#000" stroke-width="70.6"/>
<path transform="matrix(0.00566,0.00000,0.00000,-0.00566,149.99,181.60)" d="M763,0H583V1100C510,1035 370,950 223,893V1060C400,1135 560,1260 647,1409H763Z" stroke="#000" stroke-width="70.6"/>
<path transform="matrix(0.00566,0.00000,0.00000,-0.00566,212.36,168.80)" d="M763,0H583V1100C510,1035 370,950 223,893V1060C400,1135 560,1260 647,1409H763Z" stroke="#000" stroke-width="70.6"/>
<path transform="matrix(0.00521,0.00000,0.00000,-0.00566,278.21,167.80)" d="M763,0H583V1100C510,1035 370,950 223,893V1060C400,1135 560,1260 647,1409H763Z" stroke="#000" stroke-width="70.6"/>
<path transform="matrix(0.00566,0.00000,0.00000,-0.00566,350.86,167.80)" d="M763,0H583V1100C510,1035 370,950 223,893V1060C400,1135 560,1260 647,1409H763Z" stroke="#000" stroke-width="70.6"/>
<path transform="matrix(0.00806,0.00000,0.00000,-0.00806,22.47,305.10)" d="M763,0H583V1100C510,1035 370,950 223,893V1060C400,1135 560,1260 647,1409H763Z" stroke="#000" stroke-width="24.8"/>
<path transform="matrix(0.00806,0.00000,0.00000,-0.00806,143.21,511.60)" d="M763,0H583V1100C510,1035 370,950 223,893V1060C400,1135 560,1260 647,1409H763Z" stroke="#000" stroke-width="24.8"/>
<path transform="matrix(0.00674,0.00000,0.00000,-0.00674,139.06,474.80)" d="M763,0H583V1100C510,1035 370,950 223,893V1060C400,1135 560,1260 647,1409H763Z" stroke="#000" stroke-width="32.6"/>
<path transform="matrix(0.00806,0.00000,0.00000,-0.00806,22.47,598.90)" d="M763,0H583V1100C510,1035 370,950 223,893V1060C400,1135 560,1260 647,1409H763Z" stroke="#000" stroke-width="24.8"/>
<path transform="matrix(0.00806,0.00000,0.00000,-0.00806,141.96,803.60)" d="M763,0H583V1100C510,1035 370,950 223,893V1060C400,1135 560,1260 647,1409H763Z" stroke="#000" stroke-width="24.8"/>
<path transform="matrix(0.00674,0.00000,0.00000,-0.00674,143.56,766.70)" d="M763,0H583V1100C510,1035 370,950 223,893V1060C400,1135 560,1260 647,1409H763Z" stroke="#000" stroke-width="32.6"/>
</svg>
</body></html>
